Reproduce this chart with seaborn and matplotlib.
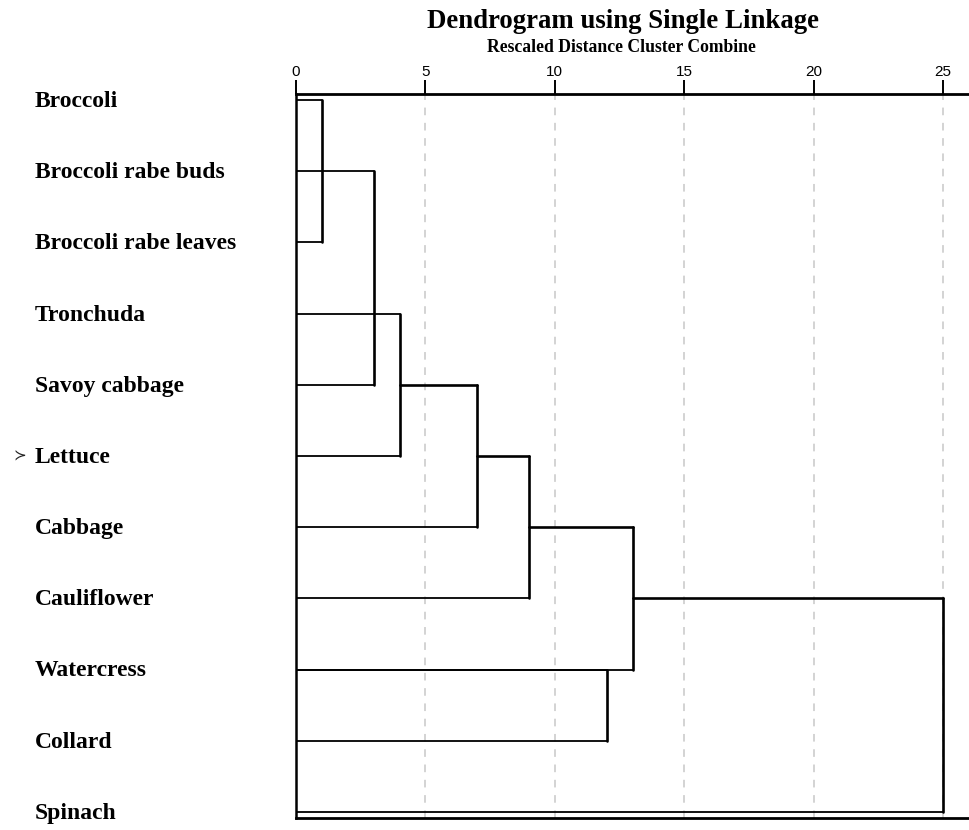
import matplotlib
matplotlib.use("Agg")
import matplotlib.pyplot as plt
import matplotlib.transforms as mtransforms
import pandas as pd
import seaborn as sns

# Leaf labels, top to bottom
labels = ["Broccoli", "Broccoli rabe buds", "Broccoli rabe leaves", "Tronchuda",
          "Savoy cabbage", "Lettuce", "Cabbage", "Cauliflower", "Watercress",
          "Collard", "Spinach"]

# Merge steps: the two rows joined, the rescaled distance of the join,
# and where each row's horizontal branch starts
merge_top_row = [0, 1, 3, 4, 5, 6, 8, 7]
merge_bottom_row = [2, 4, 5, 6, 7, 8, 9, 10]
merge_height = [1, 3, 4, 7, 9, 13, 12, 25]
top_branch_start = [0, 0, 0, 4, 7, 9, 0, 13]
bottom_branch_start = [0, 0, 0, 0, 0, 0, 0, 0]

x_ticks = [0, 5, 10, 15, 20, 25]
marked_leaf = "Lettuce"

sns.set_style("white")
plt.rcParams["font.family"] = ["Liberation Serif", "DejaVu Serif"]

fig = plt.figure(figsize=(9.69, 8.30), dpi=100)
ax = fig.add_axes([296 / 969, 1 - 818 / 830, 1 - 296 / 969, (818 - 94) / 830])

# Build line segments for the dendrogram branches
rows = []
seg = 0
for t, b, h, ts, bs in zip(merge_top_row, merge_bottom_row, merge_height,
                           top_branch_start, bottom_branch_start):
    thick = "thin" if ts == 0 else "thick"
    rows += [dict(x=ts, y=t, seg=seg, w=thick), dict(x=h, y=t, seg=seg, w=thick)]
    seg += 1
    rows += [dict(x=bs, y=b, seg=seg, w="thin"), dict(x=h, y=b, seg=seg, w="thin")]
    seg += 1
    rows += [dict(x=h, y=t, seg=seg, w="thick"), dict(x=h, y=b, seg=seg, w="thick")]
    seg += 1
df = pd.DataFrame(rows)

sns.lineplot(data=df[df.w == "thin"], x="x", y="y", units="seg", estimator=None,
             sort=False, color="black", lw=1.3, ax=ax, legend=False)
sns.lineplot(data=df[df.w == "thick"], x="x", y="y", units="seg", estimator=None,
             sort=False, color="black", lw=1.9, ax=ax, legend=False)

n = len(labels)
ax.set_xlim(0, 26.0)
ax.set_ylim(n - 1 + 0.085, -0.085)

# Dashed reference lines at each tick
for xt in x_ticks[1:]:
    ax.axvline(xt, color="#c8c8c8", lw=1.1, ls=(0, (5, 5)), zorder=0)

ax.spines["right"].set_visible(False)
ax.spines["top"].set_linewidth(2.0)
ax.spines["bottom"].set_linewidth(2.0)
ax.spines["left"].set_linewidth(1.8)
for s in ["top", "bottom", "left"]:
    ax.spines[s].set_color("black")

ax.xaxis.tick_top()
ax.set_xticks(x_ticks)
ax.set_xticklabels([str(v) for v in x_ticks], fontfamily="Liberation Sans", fontsize=11)
ax.tick_params(axis="x", top=True, bottom=False, length=10, width=1.4, pad=1,
               direction="out", colors="black")
ax.set_yticks([])
ax.set_xlabel("")
ax.set_ylabel("")

# Leaf labels on the left
trans = mtransforms.blended_transform_factory(fig.transFigure, ax.transData)
for i, lab in enumerate(labels):
    ax.text(35 / 969, i + 0.02, lab, transform=trans, ha="left", va="center",
            fontsize=17, fontweight="bold", color="black")
    if lab == marked_leaf:
        ax.text(13 / 969, i, "\u227b", transform=trans, ha="left", va="center",
                fontsize=11, fontfamily="DejaVu Sans", color="#222222")

fig.text(623 / 969, 1 - 21 / 830, "Dendrogram using Single Linkage", ha="center",
         va="center", fontsize=19.3, fontweight="bold", color="black")
fig.text(621 / 969, 1 - 47 / 830, "Rescaled Distance Cluster Combine", ha="center",
         va="center", fontsize=12.7, fontweight="bold", color="black")

fig.savefig("out.png", dpi=100)
